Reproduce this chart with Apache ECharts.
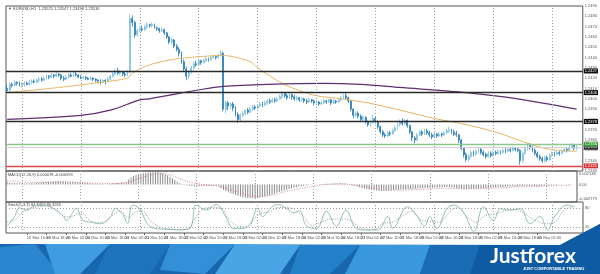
<!DOCTYPE html>
<html><head><meta charset="utf-8">
<script src="https://cdn.jsdelivr.net/npm/echarts@6.0.0/dist/echarts.min.js"></script>
<style>html,body{margin:0;padding:0;background:#fff;overflow:hidden}#c{width:600px;height:274px}</style>
</head><body><div id="c"></div>
<script>
// ---- DATA ----
const barCount = 235;
// [open, close, low, high]
const candles = [
[1.2410,1.2408,1.2406,1.2413],[1.2408,1.2414,1.2407,1.2416],[1.2414,1.2413,1.2411,1.2416],[1.2413,1.2416,1.2412,1.2418],
[1.2416,1.2415,1.2413,1.2417],[1.2415,1.2413,1.2412,1.2417],[1.2413,1.2414,1.2411,1.2416],[1.2414,1.2415,1.2412,1.2417],
[1.2415,1.2414,1.2413,1.2417],[1.2414,1.2416,1.2413,1.2418],[1.2416,1.2417,1.2414,1.2419],[1.2417,1.2416,1.2415,1.2419],
[1.2416,1.2418,1.2415,1.2420],[1.2418,1.2419,1.2416,1.2421],[1.2419,1.2418,1.2417,1.2421],[1.2418,1.2420,1.2417,1.2422],
[1.2420,1.2422,1.2419,1.2424],[1.2422,1.2421,1.2419,1.2423],[1.2421,1.2423,1.2420,1.2425],[1.2423,1.2422,1.2420,1.2424],
[1.2422,1.2424,1.2421,1.2426],[1.2424,1.2423,1.2421,1.2425],[1.2423,1.2420,1.2418,1.2424],[1.2420,1.2419,1.2417,1.2422],
[1.2419,1.2421,1.2418,1.2423],[1.2421,1.2423,1.2420,1.2425],[1.2423,1.2422,1.2421,1.2425],[1.2422,1.2424,1.2421,1.2426],
[1.2424,1.2423,1.2422,1.2426],[1.2423,1.2421,1.2420,1.2424],[1.2421,1.2420,1.2419,1.2423],[1.2420,1.2421,1.2419,1.2422],
[1.2421,1.2420,1.2418,1.2422],[1.2420,1.2419,1.2418,1.2421],[1.2419,1.2420,1.2418,1.2422],[1.2420,1.2419,1.2417,1.2421],
[1.2419,1.2418,1.2416,1.2420],[1.2418,1.2417,1.2415,1.2419],[1.2417,1.2416,1.2414,1.2419],[1.2416,1.2418,1.2415,1.2419],
[1.2418,1.2417,1.2414,1.2419],[1.2417,1.2419,1.2416,1.2421],[1.2419,1.2422,1.2418,1.2423],[1.2422,1.2424,1.2421,1.2426],
[1.2424,1.2427,1.2423,1.2429],[1.2427,1.2425,1.2423,1.2430],[1.2425,1.2426,1.2423,1.2428],[1.2426,1.2424,1.2422,1.2427],
[1.2424,1.2423,1.2421,1.2426],[1.2423,1.2426,1.2422,1.2428],[1.2426,1.2478,1.2425,1.2482],[1.2478,1.2474,1.2470,1.2481],
[1.2474,1.2462,1.2459,1.2476],[1.2462,1.2466,1.2460,1.2468],[1.2466,1.2468,1.2465,1.2470],[1.2468,1.2467,1.2465,1.2471],
[1.2467,1.2470,1.2466,1.2472],[1.2470,1.2472,1.2468,1.2474],[1.2472,1.2471,1.2469,1.2473],[1.2471,1.2472,1.2469,1.2474],
[1.2472,1.2469,1.2468,1.2473],[1.2469,1.2468,1.2466,1.2470],[1.2468,1.2466,1.2464,1.2469],[1.2466,1.2467,1.2465,1.2469],
[1.2467,1.2464,1.2462,1.2468],[1.2464,1.2460,1.2458,1.2465],[1.2460,1.2455,1.2453,1.2461],[1.2455,1.2457,1.2453,1.2459],
[1.2457,1.2451,1.2449,1.2458],[1.2451,1.2448,1.2446,1.2453],[1.2448,1.2444,1.2441,1.2450],[1.2444,1.2436,1.2434,1.2446],
[1.2436,1.2429,1.2427,1.2438],[1.2429,1.2422,1.2418,1.2431],[1.2422,1.2426,1.2419,1.2428],[1.2426,1.2430,1.2424,1.2432],
[1.2430,1.2434,1.2428,1.2436],[1.2434,1.2433,1.2431,1.2437],[1.2433,1.2437,1.2432,1.2439],[1.2437,1.2435,1.2433,1.2438],
[1.2435,1.2437,1.2434,1.2439],[1.2437,1.2439,1.2436,1.2441],[1.2439,1.2438,1.2436,1.2440],[1.2438,1.2440,1.2437,1.2442],
[1.2440,1.2441,1.2439,1.2443],[1.2441,1.2440,1.2438,1.2442],[1.2440,1.2442,1.2439,1.2444],[1.2442,1.2444,1.2441,1.2447],
[1.2444,1.2390,1.2388,1.2446],[1.2390,1.2396,1.2386,1.2398],[1.2396,1.2393,1.2389,1.2398],[1.2393,1.2395,1.2390,1.2397],
[1.2395,1.2391,1.2388,1.2397],[1.2391,1.2385,1.2383,1.2393],[1.2385,1.2380,1.2377,1.2387],[1.2380,1.2384,1.2378,1.2386],
[1.2384,1.2386,1.2382,1.2388],[1.2386,1.2389,1.2384,1.2390],[1.2389,1.2387,1.2385,1.2391],[1.2387,1.2390,1.2386,1.2392],
[1.2390,1.2392,1.2388,1.2394],[1.2392,1.2391,1.2389,1.2394],[1.2391,1.2393,1.2390,1.2395],[1.2393,1.2395,1.2392,1.2397],
[1.2395,1.2394,1.2392,1.2397],[1.2394,1.2396,1.2393,1.2398],[1.2396,1.2398,1.2394,1.2400],[1.2398,1.2397,1.2395,1.2400],
[1.2397,1.2399,1.2396,1.2401],[1.2399,1.2398,1.2396,1.2401],[1.2398,1.2400,1.2397,1.2402],[1.2400,1.2402,1.2399,1.2404],
[1.2402,1.2405,1.2400,1.2407],[1.2405,1.2403,1.2401,1.2406],[1.2403,1.2401,1.2399,1.2405],[1.2401,1.2404,1.2400,1.2406],
[1.2404,1.2402,1.2399,1.2405],[1.2402,1.2400,1.2398,1.2404],[1.2400,1.2401,1.2398,1.2403],[1.2401,1.2399,1.2397,1.2402],
[1.2399,1.2400,1.2397,1.2402],[1.2400,1.2398,1.2396,1.2401],[1.2398,1.2397,1.2395,1.2400],[1.2397,1.2399,1.2396,1.2401],
[1.2399,1.2398,1.2396,1.2400],[1.2398,1.2396,1.2394,1.2399],[1.2396,1.2397,1.2395,1.2399],[1.2397,1.2395,1.2393,1.2398],
[1.2395,1.2396,1.2394,1.2398],[1.2396,1.2398,1.2395,1.2400],[1.2398,1.2397,1.2395,1.2399],[1.2397,1.2399,1.2396,1.2400],
[1.2399,1.2396,1.2394,1.2400],[1.2396,1.2398,1.2395,1.2400],[1.2398,1.2397,1.2395,1.2399],[1.2397,1.2399,1.2396,1.2401],
[1.2399,1.2401,1.2398,1.2403],[1.2401,1.2403,1.2400,1.2405],[1.2403,1.2401,1.2399,1.2406],[1.2401,1.2398,1.2396,1.2402],
[1.2398,1.2390,1.2388,1.2399],[1.2390,1.2384,1.2381,1.2391],[1.2384,1.2386,1.2382,1.2388],[1.2386,1.2383,1.2381,1.2388],
[1.2383,1.2380,1.2378,1.2385],[1.2380,1.2382,1.2378,1.2384],[1.2382,1.2378,1.2376,1.2383],[1.2378,1.2375,1.2373,1.2379],
[1.2375,1.2377,1.2373,1.2379],[1.2377,1.2381,1.2376,1.2385],[1.2381,1.2378,1.2376,1.2383],[1.2378,1.2373,1.2371,1.2379],
[1.2373,1.2368,1.2366,1.2374],[1.2368,1.2365,1.2363,1.2370],[1.2365,1.2364,1.2362,1.2367],[1.2364,1.2367,1.2363,1.2369],
[1.2367,1.2366,1.2364,1.2369],[1.2366,1.2369,1.2365,1.2371],[1.2369,1.2372,1.2368,1.2374],[1.2372,1.2375,1.2370,1.2377],
[1.2375,1.2378,1.2373,1.2380],[1.2378,1.2376,1.2374,1.2381],[1.2376,1.2379,1.2375,1.2381],[1.2379,1.2374,1.2372,1.2380],
[1.2374,1.2368,1.2366,1.2375],[1.2368,1.2362,1.2359,1.2369],[1.2362,1.2360,1.2357,1.2364],[1.2360,1.2365,1.2359,1.2367],
[1.2365,1.2368,1.2364,1.2370],[1.2368,1.2366,1.2364,1.2370],[1.2366,1.2369,1.2365,1.2371],[1.2369,1.2367,1.2365,1.2371],
[1.2367,1.2365,1.2363,1.2369],[1.2365,1.2363,1.2361,1.2367],[1.2363,1.2366,1.2362,1.2368],[1.2366,1.2364,1.2362,1.2367],
[1.2364,1.2366,1.2363,1.2368],[1.2366,1.2365,1.2363,1.2367],[1.2365,1.2367,1.2364,1.2369],[1.2367,1.2369,1.2366,1.2371],
[1.2369,1.2370,1.2367,1.2373],[1.2370,1.2368,1.2366,1.2371],[1.2368,1.2366,1.2364,1.2370],[1.2366,1.2365,1.2363,1.2369],
[1.2365,1.2360,1.2357,1.2366],[1.2360,1.2352,1.2350,1.2361],[1.2352,1.2346,1.2343,1.2353],[1.2346,1.2341,1.2339,1.2348],
[1.2341,1.2344,1.2339,1.2346],[1.2344,1.2348,1.2343,1.2350],[1.2348,1.2346,1.2344,1.2350],[1.2346,1.2349,1.2345,1.2351],
[1.2349,1.2351,1.2347,1.2353],[1.2351,1.2348,1.2346,1.2353],[1.2348,1.2346,1.2344,1.2350],[1.2346,1.2344,1.2342,1.2348],
[1.2344,1.2347,1.2343,1.2349],[1.2347,1.2345,1.2343,1.2349],[1.2345,1.2348,1.2344,1.2350],[1.2348,1.2347,1.2345,1.2350],
[1.2347,1.2349,1.2346,1.2351],[1.2349,1.2348,1.2346,1.2350],[1.2348,1.2350,1.2347,1.2352],[1.2350,1.2349,1.2347,1.2352],
[1.2349,1.2351,1.2348,1.2353],[1.2351,1.2350,1.2348,1.2353],[1.2350,1.2352,1.2349,1.2354],[1.2352,1.2351,1.2349,1.2353],
[1.2351,1.2350,1.2348,1.2353],[1.2350,1.2340,1.2336,1.2351],[1.2340,1.2347,1.2338,1.2349],[1.2347,1.2352,1.2346,1.2354],
[1.2352,1.2355,1.2350,1.2357],[1.2355,1.2353,1.2351,1.2357],[1.2353,1.2350,1.2348,1.2355],[1.2350,1.2347,1.2345,1.2352],
[1.2347,1.2344,1.2342,1.2349],[1.2344,1.2342,1.2340,1.2346],[1.2342,1.2340,1.2338,1.2344],[1.2340,1.2343,1.2338,1.2345],
[1.2343,1.2341,1.2339,1.2345],[1.2341,1.2345,1.2340,1.2347],[1.2345,1.2347,1.2344,1.2349],[1.2347,1.2346,1.2344,1.2349],
[1.2346,1.2348,1.2345,1.2350],[1.2348,1.2347,1.2345,1.2350],[1.2347,1.2349,1.2346,1.2351],[1.2349,1.2351,1.2348,1.2353],
[1.2351,1.2350,1.2348,1.2353],[1.2350,1.2353,1.2349,1.2355],[1.2353,1.2355,1.2352,1.2357],[1.2355,1.2352,1.2350,1.2356],
[1.2352,1.2353,1.2350,1.2355]
];
// moving averages [barIndex, value]
const maFast = [[0,1.2406],[21,1.2411],[38,1.2416],[49,1.2420],[51,1.2425],[58,1.2433],[65,1.2437],[70,1.2439],[79,1.2441],[88,1.2442],[99,1.2436],[102,1.2430],[112,1.2415],[119,1.2408],[126,1.2403],[136,1.2400],[147,1.2396],[160,1.2389],[174,1.2381],[187,1.2375],[200,1.2367],[212,1.2357],[221,1.2351],[232,1.2349]];
const maSlow = [[0,1.2380],[30,1.2384],[42,1.2389],[54,1.2399],[58,1.2400],[79,1.2409],[88,1.2412],[106,1.2414],[129,1.2415],[144,1.2414],[160,1.2411],[187,1.2406],[208,1.2400],[232,1.2390]];
// horizontal levels
const levelBlack = [1.2427, 1.2406, 1.2378];
const levelGreen = 1.2356;
const levelRed = 1.2335;
const lastPrice = 1.2353;
// MACD histogram per bar
const macdHist = [
0.00030,0.00027,0.00024,0.00022,0.00020,0.00018,0.00016,0.00015,0.00015,0.00016,0.00018,0.00021,0.00024,0.00028,0.00031,0.00034,
0.00038,0.00042,0.00045,0.00048,0.00050,0.00052,0.00052,0.00050,0.00047,0.00044,0.00042,0.00041,0.00040,0.00037,0.00034,0.00030,
0.00027,0.00024,0.00020,0.00017,0.00014,0.00011,0.00008,0.00006,0.00005,0.00005,0.00008,0.00012,0.00018,0.00024,0.00027,0.00028,
0.00028,0.00032,0.00080,0.00115,0.00135,0.00150,0.00162,0.00172,0.00180,0.00186,0.00190,0.00193,0.00195,0.00195,0.00193,0.00188,
0.00178,0.00165,0.00145,0.00122,0.00098,0.00072,0.00048,0.00025,0.00008,-0.00005,-0.00015,-0.00022,-0.00026,-0.00028,-0.00028,-0.00027,
-0.00026,-0.00025,-0.00024,-0.00023,-0.00022,-0.00021,-0.00020,-0.00022,-0.00060,-0.00085,-0.00105,-0.00122,-0.00138,-0.00152,-0.00166,-0.00180,
-0.00192,-0.00202,-0.00210,-0.00216,-0.00220,-0.00220,-0.00218,-0.00214,-0.00208,-0.00200,-0.00190,-0.00180,-0.00170,-0.00158,-0.00146,-0.00133,
-0.00120,-0.00107,-0.00094,-0.00082,-0.00071,-0.00060,-0.00050,-0.00042,-0.00034,-0.00027,-0.00021,-0.00015,-0.00010,-0.00006,-0.00002,0.00002,
0.00005,0.00007,0.00009,0.00010,0.00011,0.00012,0.00013,0.00014,0.00016,0.00018,0.00019,0.00017,0.00008,-0.00006,-0.00016,-0.00024,
-0.00032,-0.00042,-0.00052,-0.00062,-0.00070,-0.00078,-0.00084,-0.00090,-0.00095,-0.00099,-0.00102,-0.00103,-0.00102,-0.00099,-0.00095,-0.00091,
-0.00088,-0.00084,-0.00080,-0.00078,-0.00077,-0.00076,-0.00075,-0.00072,-0.00068,-0.00064,-0.00061,-0.00058,-0.00056,-0.00054,-0.00052,-0.00050,
-0.00048,-0.00046,-0.00044,-0.00042,-0.00040,-0.00039,-0.00040,-0.00042,-0.00048,-0.00055,-0.00062,-0.00067,-0.00070,-0.00071,-0.00071,-0.00070,
-0.00069,-0.00068,-0.00066,-0.00063,-0.00060,-0.00057,-0.00054,-0.00051,-0.00048,-0.00045,-0.00042,-0.00040,-0.00038,-0.00036,-0.00034,-0.00032,
-0.00030,-0.00032,-0.00031,-0.00029,-0.00026,-0.00024,-0.00024,-0.00025,-0.00026,-0.00027,-0.00028,-0.00027,-0.00025,-0.00022,-0.00019,-0.00016,
-0.00013,-0.00010,-0.00007,-0.00005,-0.00003,-0.00001,0.00002,0.00005,0.00008
];
const macdSignal = [[0,0.0006],[10,0.0003],[24,0.00042],[41,0.00015],[49,0.0003],[53,0.0008],[57,0.0013],[61,0.0017],[64,0.00178],[66,0.0016],[70,0.0011],[74,0.0005],[79,0.0001],[85,-0.0002],[89,-0.0005],[95,-0.0012],[100,-0.0018],[105,-0.0019],[110,-0.0016],[116,-0.0010],[123,-0.0005],[129,-0.0001],[136,0.0001],[141,0.0000],[147,-0.0004],[155,-0.0008],[162,-0.0009],[169,-0.0008],[180,-0.0006],[190,-0.0007],[200,-0.0006],[209,-0.0004],[218,-0.0003],[232,-0.0001]];
// Stochastic %K and %D
const stochK = [[0,22],[3,53],[5,81],[8,74],[11,87],[15,90],[19,78],[23,53],[24,40],[27,70],[28,80],[31,40],[34,35],[38,30],[42,53],[44,80],[47,60],[49,30],[51,90],[54,78],[57,30],[60,15],[65,12],[70,10],[73,12],[75,22],[77,90],[81,74],[85,92],[89,53],[92,15],[96,15],[99,30],[102,80],[104,53],[107,78],[110,92],[114,78],[117,65],[119,72],[122,22],[126,15],[130,70],[134,22],[138,74],[142,15],[146,10],[151,10],[155,53],[157,15],[163,85],[167,53],[170,22],[172,53],[175,15],[179,78],[182,90],[186,65],[190,5],[194,85],[198,40],[201,78],[205,74],[209,78],[213,30],[217,53],[220,10],[223,53],[228,90],[231,85]];
const stochD = [[0,35],[3,42],[6,66],[9,78],[12,84],[16,87],[20,75],[24,52],[27,55],[30,66],[33,45],[36,34],[40,36],[43,58],[46,70],[49,50],[52,66],[55,72],[58,42],[62,20],[67,12],[73,11],[76,40],[79,74],[83,82],[87,80],[90,48],[94,22],[98,20],[101,50],[104,65],[107,68],[110,82],[114,82],[118,70],[121,50],[124,25],[128,35],[132,45],[136,45],[140,40],[144,15],[149,10],[153,30],[157,35],[161,55],[165,70],[169,40],[172,38],[176,35],[180,65],[183,82],[187,55],[191,35],[195,58],[199,62],[203,72],[207,76],[211,60],[215,42],[219,30],[223,35],[227,75],[231,85]];
const stochLevels = [80, 20];
// time axis labels every 8 bars
const timeLabels = ['19 Mar 2018','19 Mar 10:00','19 Mar 18:00','20 Mar 02:00','20 Mar 10:00','20 Mar 18:00','21 Mar 02:00','21 Mar 10:00','21 Mar 18:00','22 Mar 02:00','22 Mar 10:00','22 Mar 18:00','23 Mar 02:00','23 Mar 10:00','23 Mar 18:00','26 Mar 02:00','26 Mar 10:00','26 Mar 18:00','27 Mar 02:00','27 Mar 10:00','27 Mar 18:00','28 Mar 02:00','28 Mar 10:00','28 Mar 18:00','29 Mar 02:00','29 Mar 10:00','29 Mar 18:00','30 Mar 02:00','30 Mar 10:00'];
const gridBars = [6,30,54,78,102,126,150,174,198,222];
const macdTicks = [0.002138, 0, -0.002779];
const stochTicks = [100, 80, 20, 0];
const titleText = '\u25BC EURUSD,H1  1.23525 1.23547 1.23498 1.23530';
const macdTitle = 'MACD(12,26,9) 0.000078 -0.000593';
const stochTitle = 'Stoch(5,3,3) 84.8462 86.3265';

// ---- CHART ----
const categories = Array.from({length: barCount}, (_, i) => String(i));
const L = 6, W = 577;
const tiny = {fontSize: 4, color: '#555', fontFamily: 'Liberation Sans'};
const vGrid = gridBars.map(b => ({xAxis: b}));
const vStyle = {color: '#a0a0a0', type: [1, 2], width: 1};

function xa(idx, labels) {
  return {
    type: 'category', gridIndex: idx, data: categories, boundaryGap: true,
    axisLine: {show: false}, splitLine: {show: false},
    axisTick: labels ? {show: true, length: 2, alignWithLabel: true, interval: (i) => i % 8 === 0 && i <= 224, lineStyle: {color: '#666'}} : {show: false},
    axisLabel: labels ? Object.assign({}, tiny, {show: true, margin: 3, align: 'left', interval: (i) => i % 8 === 0 && i <= 224, formatter: (v, i) => timeLabels[i / 8] || ''}) : {show: false}
  };
}

const levelLines = [].concat(
  levelBlack.map(v => ({yAxis: v, lineStyle: {color: '#2a2a2a', width: 1.3, type: 'solid'}, label: {backgroundColor: '#111'}})),
  [{yAxis: lastPrice, lineStyle: {color: '#cfcfcf', width: 1, type: 'solid'}, label: {backgroundColor: '#333'}},
   {yAxis: levelGreen, lineStyle: {color: '#8cc88c', width: 1.3, type: 'solid'}, label: {backgroundColor: '#3d9a3d'}},
   {yAxis: levelRed, lineStyle: {color: '#e04848', width: 1.3, type: 'solid'}, label: {backgroundColor: '#d63030'}}]
);

const option = {
  animation: false,
  backgroundColor: '#ffffff',
  grid: [
    {left: L, top: 6, width: W, height: 165, show: true, borderColor: '#555', borderWidth: 1},
    {left: L, top: 171, width: W, height: 31, show: true, borderColor: '#555', borderWidth: 1},
    {left: L, top: 202, width: W, height: 31, show: true, borderColor: '#555', borderWidth: 1}
  ],
  xAxis: [xa(0, false), xa(1, false), xa(2, true)],
  yAxis: [
    {type: 'value', gridIndex: 0, position: 'right', min: 1.2330, max: 1.2490, interval: 0.001,
     axisLine: {show: false}, axisTick: {show: false}, splitLine: {show: false},
     axisLabel: Object.assign({}, tiny, {margin: 2, formatter: v => v.toFixed(4)})},
    {type: 'value', gridIndex: 1, position: 'right', min: -0.002779, max: 0.002138,
     axisLine: {show: false}, axisTick: {show: false}, splitLine: {show: false},
     axisLabel: Object.assign({}, tiny, {margin: 2, customValues: macdTicks,
       formatter: v => v === 0 ? '{m|0.00}' : (v > 0 ? '{t|' + v.toFixed(6) + '}' : '{b|' + v.toFixed(6) + '}'),
       rich: {t: {fontSize: 4, color: '#555', padding: [6, 0, 0, 0]}, b: {fontSize: 4, color: '#555', padding: [0, 0, 6, 0]}, m: {fontSize: 4, color: '#555'}}})},
    {type: 'value', gridIndex: 2, position: 'right', min: 0, max: 100,
     axisLine: {show: false}, axisTick: {show: false}, splitLine: {show: false},
     axisLabel: Object.assign({}, tiny, {margin: 2, customValues: stochTicks,
       formatter: v => v === 100 ? '{t|100}' : (v === 0 ? '{b|0}' : '{m|' + v + '}'),
       rich: {t: {fontSize: 4, color: '#555', padding: [5, 0, 0, 0]}, b: {fontSize: 4, color: '#555', padding: [0, 0, 5, 0]}, m: {fontSize: 4, color: '#555'}}})}
  ],
  series: [
    {type: 'candlestick', xAxisIndex: 0, yAxisIndex: 0, data: candles, barWidth: 1.4,
     itemStyle: {color: '#8ccbe8', color0: '#2a7cbc', borderColor: '#7fc2e2', borderColor0: '#2a7cbc', borderWidth: 0.8},
     markLine: {symbol: 'none', silent: true, animation: false, label: {show: false}, lineStyle: vStyle, data: vGrid}},
    {type: 'line', xAxisIndex: 0, yAxisIndex: 0, data: maFast, showSymbol: false, smooth: 0.3,
     lineStyle: {color: '#e6b866', width: 1},
     markLine: {symbol: 'none', silent: true, animation: false, precision: 5,
       label: {show: true, position: 'end', distance: 1, fontSize: 4, color: '#fff', padding: [1, 1, 0, 1], fontFamily: 'Liberation Sans', formatter: p => (+p.value).toFixed(4)},
       data: levelLines}},
    {type: 'line', xAxisIndex: 0, yAxisIndex: 0, data: maSlow, showSymbol: false, smooth: 0.3,
     lineStyle: {color: '#5e2e70', width: 1.2}},
    {type: 'bar', xAxisIndex: 1, yAxisIndex: 1, data: macdHist, barWidth: 1,
     itemStyle: {color: '#8a8a8a'},
     markLine: {symbol: 'none', silent: true, animation: false, label: {show: false}, lineStyle: vStyle, data: vGrid}},
    {type: 'line', xAxisIndex: 1, yAxisIndex: 1, data: macdSignal, showSymbol: false, smooth: 0.3,
     lineStyle: {color: '#e08a8a', width: 1, type: [1, 1.5]}},
    {type: 'line', xAxisIndex: 2, yAxisIndex: 2, data: stochK, showSymbol: false, smooth: 0.4,
     lineStyle: {color: '#93c3aa', width: 1},
     markLine: {symbol: 'none', silent: true, animation: false, label: {show: false}, lineStyle: vStyle,
       data: vGrid.concat(stochLevels.map(v => ({yAxis: v})))}},
    {type: 'line', xAxisIndex: 2, yAxisIndex: 2, data: stochD, showSymbol: false, smooth: 0.4,
     lineStyle: {color: '#9a9a9a', width: 1, type: [1, 1.5]}}
  ],
  graphic: [
    {type: 'text', left: 8, top: 7, style: {text: titleText, fontSize: 4, fill: '#444', fontFamily: 'Liberation Sans'}},
    {type: 'text', left: 8, top: 173, style: {text: macdTitle, fontSize: 4, fill: '#444', fontFamily: 'Liberation Sans'}},
    {type: 'text', left: 8, top: 203, style: {text: stochTitle, fontSize: 4, fill: '#444', fontFamily: 'Liberation Sans'}},
    {type: 'polygon', shape: {points: [[0,244],[560,245],[600,224],[600,274],[0,274]]}, style: {fill: '#1766ae'}},
    {type: 'polygon', shape: {points: [[0,247],[35,244],[60,274],[0,274]]}, style: {fill: '#2a86cf'}},
    {type: 'polygon', shape: {points: [[45,244],[110,244],[80,274],[55,274]]}, style: {fill: '#3f9ce0'}},
    {type: 'polygon', shape: {points: [[110,244],[170,244],[150,274],[95,274]]}, style: {fill: '#1d74bd'}},
    {type: 'polygon', shape: {points: [[170,244],[235,244],[205,274],[160,270]]}, style: {fill: '#3290d8'}},
    {type: 'polygon', shape: {points: [[235,244],[300,245],[280,274],[215,274]]}, style: {fill: '#4aa5e6'}},
    {type: 'polygon', shape: {points: [[300,245],[360,245],[330,274],[290,274]]}, style: {fill: '#2280c8'}},
    {type: 'polygon', shape: {points: [[360,245],[430,245],[420,274],[345,274]]}, style: {fill: '#3a98dc'}},
    {type: 'polygon', shape: {points: [[430,245],[480,245],[470,274],[420,274]]}, style: {fill: '#1a6cb5'}},
    {type: 'polygon', shape: {points: [[480,245],[560,245],[600,224],[600,274],[470,274]]}, style: {fill: '#0f5ba3'}},
    {type: 'text', x: 490, y: 246, style: {text: 'Justforex', fontSize: 21, fontWeight: 'bold', fill: '#ffffff', fontFamily: 'Lato'}},
    {type: 'text', x: 523, y: 267, style: {text: 'JUST COMFORTABLE TRADING', fontSize: 4, fontWeight: 'bold', fill: '#ffffff', fontFamily: 'Liberation Sans'}}
  ]
};
const chart = echarts.init(document.getElementById('c'));
chart.setOption(option);
</script>
</body></html>
